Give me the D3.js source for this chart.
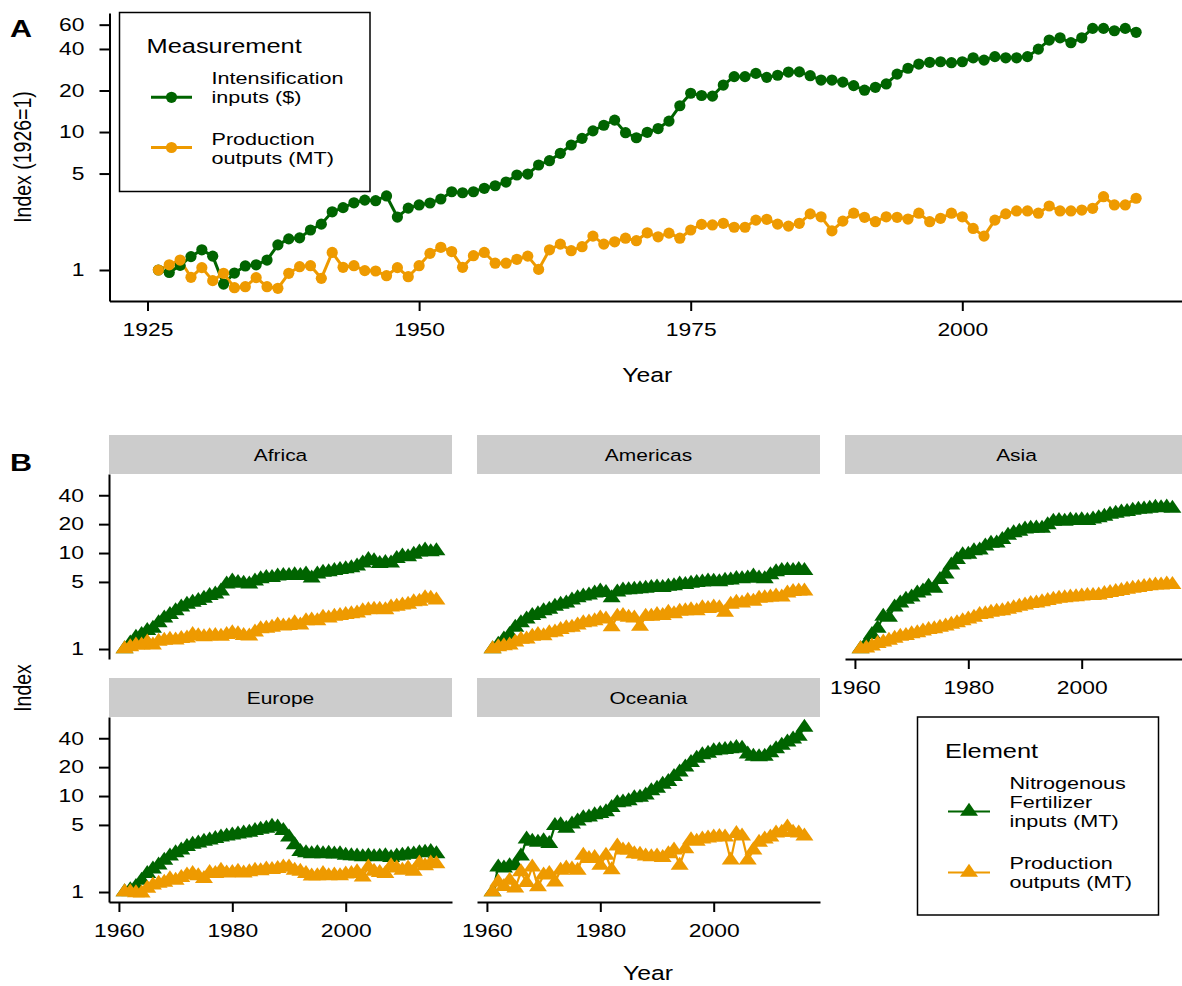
<!DOCTYPE html>
<html>
<head>
<meta charset="utf-8">
<script src="https://cdn.jsdelivr.net/npm/d3@7"></script>
<style>
  body { margin: 0; background: #fff; }
  svg { display: block; }
  text { font-family: "Liberation Sans", Arial, Helvetica, sans-serif; fill: #000; }
</style>
</head>
<body>
<svg id="chart" width="1182" height="986"></svg>
<script>
// ---------------- Panel A: USA index, 1926 = 1 ----------------
const yearsA = d3.range(1926, 2017);
const intensificationInputs = [
  1.00, 0.96, 1.08, 1.25, 1.40, 1.26, 0.79, 0.95, 1.07, 1.09,
  1.18, 1.52, 1.68, 1.71, 1.95, 2.15, 2.64, 2.83, 3.07, 3.21,
  3.18, 3.44, 2.42, 2.81, 2.96, 3.06, 3.27, 3.69, 3.63, 3.69,
  3.91, 4.08, 4.34, 4.88, 4.96, 5.77, 6.20, 7.01, 8.05, 9.00,
  10.2, 11.2, 12.2, 9.89, 9.09, 9.95, 10.6, 12.0, 15.5, 19.1,
  18.4, 18.2, 21.9, 25.2, 25.2, 26.6, 24.9, 25.8, 27.2, 27.3,
  25.6, 23.8, 23.8, 23.0, 21.7, 20.1, 21.1, 22.3, 26.3, 29.0,
  31.1, 32.0, 32.3, 31.8, 32.3, 34.5, 33.2, 35.2, 34.5, 34.5,
  35.2, 39.9, 46.4, 48.2, 44.4, 48.2, 56.4, 56.4, 54.2, 56.4,
  52.8
];
const productionOutputsA = [
  1.00, 1.09, 1.18, 0.885, 1.04, 0.837, 0.946, 0.744, 0.757, 0.88,
  0.757, 0.737, 0.946, 1.057, 1.074, 0.87, 1.34, 1.046, 1.074, 0.99,
  0.983, 0.909, 1.04, 0.894, 1.074, 1.32, 1.46, 1.36, 1.046, 1.27,
  1.34, 1.12, 1.12, 1.195, 1.26, 1.01, 1.40, 1.54, 1.38, 1.475,
  1.76, 1.54, 1.60, 1.70, 1.63, 1.86, 1.74, 1.85, 1.70, 1.95,
  2.14, 2.12, 2.18, 2.04, 2.04, 2.30, 2.33, 2.15, 2.08, 2.18,
  2.55, 2.43, 1.92, 2.26, 2.58, 2.41, 2.24, 2.43, 2.41, 2.34,
  2.58, 2.24, 2.37, 2.58, 2.43, 2.00, 1.76, 2.30, 2.55, 2.68,
  2.68, 2.58, 2.91, 2.68, 2.68, 2.72, 2.80, 3.40, 2.96, 2.96,
  3.31
];
const ticksAx = [1925, 1950, 1975, 2000];
const ticksAy = [1, 5, 10, 20, 40, 60];
const measurementLabels = [["Intensification", "inputs ($)"], ["Production", "outputs (MT)"]];

// ---------------- Panel B: regional index, 1961 = 1 ----------------
const yearsB = d3.range(1961, 2017);
const regions = ["Africa", "Americas", "Asia", "Europe", "Oceania"];
const fertilizerAfrica = [
  1.00, 1.15, 1.32, 1.41, 1.55, 1.64, 1.87, 2.09, 2.28, 2.50,
  2.73, 2.91, 3.05, 3.19, 3.37, 3.60, 3.73, 4.00, 4.73, 5.10,
  4.91, 4.82, 4.73, 5.10, 5.37, 5.55, 5.55, 5.73, 5.82, 5.82,
  5.92, 5.82, 6.01, 5.46, 6.01, 6.28, 6.37, 6.55, 6.73, 6.83,
  7.01, 7.28, 7.83, 8.55, 8.28, 7.74, 7.92, 7.83, 8.74, 9.28,
  9.10, 9.65, 10.2, 10.7, 10.3, 10.5
];
const productionAfrica = [
  1.00, 1.05, 1.10, 1.10, 1.18, 1.10, 1.20, 1.23, 1.26, 1.24,
  1.28, 1.30, 1.41, 1.37, 1.34, 1.37, 1.38, 1.35, 1.41, 1.47,
  1.44, 1.38, 1.36, 1.50, 1.62, 1.64, 1.68, 1.77, 1.73, 1.75,
  1.87, 1.77, 1.96, 2.00, 1.96, 2.14, 2.09, 2.18, 2.23, 2.28,
  2.32, 2.37, 2.50, 2.55, 2.59, 2.59, 2.55, 2.73, 2.78, 2.87,
  2.91, 3.09, 3.14, 3.41, 3.37, 3.23
];
const fertilizerAmericas = [
  1.00, 1.12, 1.27, 1.41, 1.68, 1.87, 2.05, 2.23, 2.32, 2.50,
  2.59, 2.78, 2.91, 3.00, 3.23, 3.41, 3.55, 3.64, 3.82, 4.00,
  3.87, 3.40, 3.91, 4.10, 4.14, 4.19, 4.23, 4.28, 4.37, 4.41,
  4.37, 4.50, 4.55, 4.73, 4.69, 4.82, 4.91, 4.96, 5.10, 5.05,
  5.00, 5.19, 5.23, 5.41, 5.37, 5.46, 5.73, 5.46, 5.37, 5.92,
  6.37, 6.55, 6.64, 6.55, 6.73, 6.55
];
const productionAmericas = [
  1.00, 1.05, 1.08, 1.10, 1.18, 1.26, 1.27, 1.35, 1.41, 1.37,
  1.47, 1.50, 1.59, 1.66, 1.68, 1.77, 1.87, 1.91, 1.96, 2.09,
  2.05, 1.70, 2.18, 2.23, 2.14, 2.09, 1.72, 2.18, 2.18, 2.28,
  2.23, 2.41, 2.32, 2.46, 2.50, 2.55, 2.50, 2.68, 2.64, 2.73,
  2.68, 2.40, 2.91, 3.05, 3.00, 3.19, 3.14, 3.37, 3.41, 3.46,
  3.55, 3.46, 3.82, 3.96, 4.00, 4.00
];
const fertilizerAsia = [
  1.00, 1.14, 1.41, 1.64, 2.18, 2.14, 2.73, 3.00, 3.28, 3.46,
  3.82, 4.00, 4.50, 4.28, 5.28, 6.01, 7.46, 8.55, 9.56, 9.65,
  10.5, 10.7, 11.8, 12.6, 12.7, 13.8, 15.3, 16.2, 16.8, 17.7,
  18.0, 18.2, 18.1, 19.6, 21.4, 21.8, 21.4, 22.0, 21.8, 22.1,
  21.8, 22.6, 23.2, 24.1, 25.3, 25.9, 26.6, 26.9, 27.8, 28.4,
  28.7, 29.1, 29.8, 29.6, 30.0, 29.1
];
const productionAsia = [
  1.00, 1.02, 1.07, 1.14, 1.18, 1.23, 1.29, 1.35, 1.38, 1.44,
  1.47, 1.53, 1.59, 1.62, 1.68, 1.73, 1.80, 1.87, 1.96, 2.05,
  2.14, 2.28, 2.32, 2.41, 2.46, 2.50, 2.59, 2.68, 2.78, 2.87,
  2.96, 3.00, 3.09, 3.19, 3.28, 3.37, 3.41, 3.46, 3.50, 3.55,
  3.59, 3.59, 3.64, 3.78, 3.87, 3.96, 4.05, 4.19, 4.28, 4.37,
  4.46, 4.55, 4.64, 4.64, 4.73, 4.69
];
const fertilizerEurope = [
  1.00, 1.05, 1.14, 1.32, 1.55, 1.73, 1.91, 2.14, 2.37, 2.55,
  2.73, 2.96, 3.14, 3.23, 3.37, 3.46, 3.59, 3.73, 3.82, 3.91,
  4.00, 4.10, 4.19, 4.37, 4.50, 4.60, 4.82, 4.73, 4.37, 3.73,
  3.09, 2.64, 2.55, 2.50, 2.55, 2.50, 2.53, 2.48, 2.50, 2.41,
  2.38, 2.37, 2.32, 2.37, 2.32, 2.35, 2.38, 2.28, 2.37, 2.41,
  2.46, 2.48, 2.55, 2.59, 2.64, 2.50
];
const productionEurope = [
  1.00, 1.00, 0.98, 0.97, 1.09, 1.18, 1.23, 1.26, 1.37, 1.32,
  1.41, 1.50, 1.55, 1.47, 1.38, 1.59, 1.55, 1.68, 1.57, 1.59,
  1.64, 1.57, 1.62, 1.68, 1.66, 1.73, 1.71, 1.75, 1.82, 1.82,
  1.68, 1.64, 1.55, 1.46, 1.47, 1.55, 1.47, 1.50, 1.47, 1.53,
  1.55, 1.62, 1.43, 1.82, 1.64, 1.59, 1.55, 1.87, 1.77, 1.68,
  1.77, 1.64, 2.00, 1.87, 2.00, 1.96
];
const fertilizerOceania = [
  1.00, 1.82, 1.77, 1.87, 1.91, 2.37, 3.55, 3.37, 3.28, 3.41,
  3.19, 4.91, 5.00, 4.60, 5.10, 5.46, 5.92, 6.01, 6.37, 6.55,
  6.83, 7.55, 8.46, 8.65, 8.92, 9.56, 9.65, 10.2, 11.3, 12.0,
  13.2, 14.1, 15.9, 17.7, 20.0, 22.3, 24.6, 26.8, 27.8, 29.6,
  30.0, 30.5, 30.9, 31.9, 31.4, 27.3, 25.9, 25.5, 25.9, 28.2,
  30.9, 33.7, 36.4, 39.1, 41.9, 52.0
];
const productionOceania = [
  1.00, 1.27, 1.14, 1.32, 1.10, 1.62, 1.25, 1.82, 1.13, 1.50,
  1.55, 1.27, 1.68, 1.77, 1.73, 1.68, 2.41, 2.23, 2.28, 1.89,
  2.41, 1.70, 3.00, 2.73, 2.73, 2.50, 2.46, 2.37, 2.32, 2.37,
  2.28, 2.50, 2.73, 1.89, 2.82, 3.50, 3.37, 3.55, 3.64, 3.73,
  3.78, 3.73, 2.15, 4.05, 3.82, 2.15, 2.73, 3.28, 3.55, 3.73,
  4.10, 4.19, 4.73, 4.19, 4.10, 3.82
];
const ticksBx = [1960, 1980, 2000];
const ticksBy = [1, 5, 10, 20, 40];
const elementLabels = [["Nitrogenous", "Fertilizer", "inputs (MT)"], ["Production", "outputs (MT)"]];

const GREEN = "#006400";
const ORANGE = "#EE9A00";
const SX = 1.27;           // horizontal stretch of the lettering

const svg = d3.select("#chart");

function label(parent, x, y, str, size, anchor = "start", weight = "normal") {
  return parent.append("text")
    .attr("transform", `translate(${x},${y}) scale(${SX},1)`)
    .attr("text-anchor", anchor)
    .style("font-size", size + "px")
    .style("font-weight", weight)
    .text(str);
}

function styleAxis(g) {
  g.select(".domain").attr("stroke", "#000").attr("stroke-width", 2);
  g.selectAll(".tick line").attr("stroke", "#000").attr("stroke-width", 2);
  g.selectAll(".tick text").style("font-size", "18px").attr("fill", "#000");
}
function leftAxis(g, scale, ticks) {
  g.call(d3.axisLeft(scale).tickValues(ticks).tickFormat(d3.format("d"))
    .tickSize(10).tickSizeOuter(0).tickPadding(9.7));
  styleAxis(g);
  g.selectAll(".tick text").attr("transform", `scale(${SX},1)`);
}
function bottomAxis(g, scale, ticks) {
  g.call(d3.axisBottom(scale).tickValues(ticks).tickFormat(d3.format("d"))
    .tickSize(10).tickSizeOuter(0).tickPadding(12.6));
  styleAxis(g);
  g.selectAll(".tick text").attr("transform", `scale(${SX},1)`);
}

// triangle marker, centred on its centroid
const TW = 18, TH = 13;
const triPath = `M0,${-TH * 2 / 3}L${TW / 2},${TH / 3}L${-TW / 2},${TH / 3}Z`;

// ================= Panel A =================
const xA = d3.scaleLinear().domain([1921.5, 2020.5]).range([109.5, 1185]);
const yA = d3.scaleLog().domain([0.596, 72.9]).range([301, 13]);

const seriesA = [
  { key: "inputs", color: GREEN, values: intensificationInputs },
  { key: "outputs", color: ORANGE, values: productionOutputsA }
];
const gA = svg.append("g");
const lineA = d3.line().x((d, i) => xA(yearsA[i])).y(d => yA(d));
seriesA.forEach(s => {
  gA.append("path").attr("d", lineA(s.values)).attr("fill", "none")
    .attr("stroke", s.color).attr("stroke-width", 3).attr("stroke-linejoin", "round");
});
seriesA.forEach(s => {
  gA.selectAll(null).data(s.values).join("circle")
    .attr("cx", (d, i) => xA(yearsA[i])).attr("cy", d => yA(d))
    .attr("r", 5.6).attr("fill", s.color);
});
leftAxis(svg.append("g").attr("transform", `translate(${xA.range()[0]},0)`), yA, ticksAy);
bottomAxis(svg.append("g").attr("transform", `translate(0,${yA.range()[0]})`), xA, ticksAx);

// legend A
const legA = svg.append("g");
legA.append("rect").attr("x", 119.5).attr("y", 12.5).attr("width", 250.5).attr("height", 179)
  .attr("fill", "#fff").attr("stroke", "#000").attr("stroke-width", 1.5);
label(legA, 146.5, 52.5, "Measurement", 20);
seriesA.forEach((s, k) => {
  const cy = 97.3 + k * 50.2;
  legA.append("line").attr("x1", 151).attr("x2", 192).attr("y1", cy).attr("y2", cy)
    .attr("stroke", s.color).attr("stroke-width", 3);
  legA.append("circle").attr("cx", 171.5).attr("cy", cy).attr("r", 5.6).attr("fill", s.color);
  measurementLabels[k].forEach((t, j) => label(legA, 211.5, 84 + k * 61 + j * 19, t, 17));
});

label(svg, 10, 37, "A", 24, "start", "bold");
label(svg, (xA.range()[0] + xA.range()[1]) / 2, 381.5, "Year", 19.5, "middle");
svg.append("text")
  .attr("transform", `translate(31,${(yA.range()[0] + yA.range()[1]) / 2}) rotate(-90) scale(1,${SX})`)
  .attr("text-anchor", "middle").style("font-size", "19.5px").text("Index (1926=1)");

// ================= Panel B =================
const regionData = {
  Africa: [fertilizerAfrica, productionAfrica],
  Americas: [fertilizerAmericas, productionAmericas],
  Asia: [fertilizerAsia, productionAsia],
  Europe: [fertilizerEurope, productionEurope],
  Oceania: [fertilizerOceania, productionOceania]
};
const colLeft = [109, 477, 845];
const panelW = 343;
const rowTop = [474, 717];     // top of plotting area (below strip)
const panelH = 185;
const stripH = 39;
const ncol = 3;
const nPanels = regions.length;

regions.forEach((r, idx) => {
  const col = idx % ncol, row = Math.floor(idx / ncol);
  const x0 = colLeft[col], y0 = rowTop[row];
  const x = d3.scaleLinear().domain([1958.25, 2018.75]).range([x0, x0 + panelW]);
  const y = d3.scaleLog().domain([0.787, 66.6]).range([y0 + panelH, y0]);
  const g = svg.append("g");

  // strip
  g.append("rect").attr("x", x0).attr("y", y0 - stripH).attr("width", panelW).attr("height", stripH)
    .attr("fill", "#cccccc");
  label(g, x0 + panelW / 2, y0 - stripH + 26, r, 16.5, "middle").attr("fill", "#1a1a1a");

  const colors = [GREEN, ORANGE];
  const line = d3.line().x((d, i) => x(yearsB[i])).y(d => y(d));
  regionData[r].forEach((vals, k) => {
    g.append("path").attr("d", line(vals)).attr("fill", "none")
      .attr("stroke", colors[k]).attr("stroke-width", 2.2).attr("stroke-linejoin", "round");
  });
  regionData[r].forEach((vals, k) => {
    g.selectAll(null).data(vals).join("path")
      .attr("d", triPath)
      .attr("transform", (d, i) => `translate(${x(yearsB[i])},${y(d)})`)
      .attr("fill", colors[k]);
  });

  // axes only on outer panels
  if (col === 0) leftAxis(svg.append("g").attr("transform", `translate(${x0},0)`), y, ticksBy);
  const hasBelow = idx + ncol < nPanels;
  if (!hasBelow) bottomAxis(svg.append("g").attr("transform", `translate(0,${y0 + panelH})`), x, ticksBx);
});

// legend B
const legB = svg.append("g");
legB.append("rect").attr("x", 917.5).attr("y", 717).attr("width", 241).attr("height", 198)
  .attr("fill", "#fff").attr("stroke", "#000").attr("stroke-width", 1.5);
label(legB, 945, 757.5, "Element", 20);
[GREEN, ORANGE].forEach((c, k) => {
  const cy = [811.5, 872.5][k];
  legB.append("line").attr("x1", 948).attr("x2", 990).attr("y1", cy).attr("y2", cy)
    .attr("stroke", c).attr("stroke-width", 2.2);
  legB.append("path").attr("d", triPath).attr("transform", `translate(969,${cy})`).attr("fill", c);
  const base = [788.5, 868.5][k];
  elementLabels[k].forEach((t, j) => label(legB, 1009.5, base + j * 19.3, t, 17));
});

label(svg, 10, 471, "B", 24, "start", "bold");
label(svg, 648, 980, "Year", 19.5, "middle");
svg.append("text")
  .attr("transform", `translate(31,688) rotate(-90) scale(1,${SX})`)
  .attr("text-anchor", "middle").style("font-size", "19.5px").text("Index");
</script>
</body>
</html>
